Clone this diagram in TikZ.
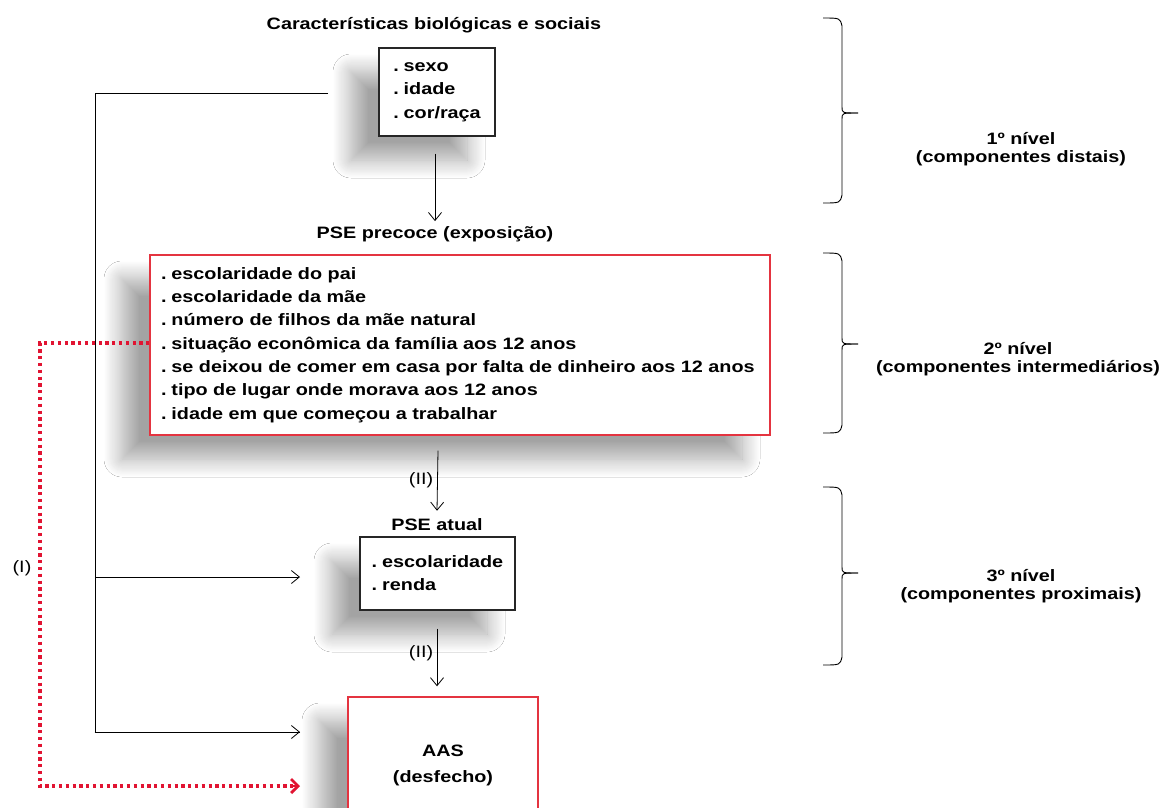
\documentclass[tikz,border=0pt]{standalone}
\usepackage{fontspec}
\setmainfont{Liberation Sans}[FakeStretch=1.2]
\usetikzlibrary{arrows.meta,shadows.blur}
\definecolor{boxred}{RGB}{228,52,64}
\definecolor{dotred}{RGB}{225,20,50}
\newcommand\dd{.\hspace{0.3em}}
\tikzset{
  txt/.style={font=\fontsize{16.5}{19}\selectfont\bfseries, inner sep=0pt},
  lbl/.style={font=\fontsize{16.5}{19}\selectfont, inner sep=0pt},
  shad/.style={blur shadow={shadow xshift=-28pt, shadow yshift=-24pt, shadow blur radius=18pt, shadow blur steps=18, shadow opacity=36}},
  blackbox/.style={draw=black!85, line width=1.4pt, fill=white, shad, align=left, inner sep=0pt},
  redbox/.style={draw=boxred, line width=1.4pt, fill=white, shad, align=left},
  arr/.style={line width=0.8pt, -{Straight Barb[length=8pt,width=13pt,line width=0.8pt]}},
  ln/.style={line width=0.8pt},
  reddot/.style={dotred, line width=3.4pt, dash pattern=on 3.2pt off 3.6pt},
  brace/.style={line width=0.9pt},
  lvl/.style={align=center, inner sep=0pt, font=\fontsize{16.5}{18.5}\selectfont\bfseries},
}
\begin{document}
\begin{tikzpicture}[x=1pt,y=-1pt]
\useasboundingbox (0,0) rectangle (1168,807);
\clip (0,0) rectangle (1168,807);
\fill[white] (0,0) rectangle (1168,807);

% nodes
\node[txt] (t1) at (434,25) {Características biológicas e sociais};
\node[blackbox, minimum width=116pt, minimum height=88pt,
      font=\fontsize{16.5}{23.5}\selectfont\bfseries] (b1) at (437,92) {\dd sexo\\\dd idade\\\dd cor/raça};
\node[txt] (t2) at (435,234) {PSE precoce (exposição)};
\node[redbox, minimum width=620pt, minimum height=180pt, text width=598pt, inner xsep=11pt,
      font=\fontsize{16.5}{23.3}\selectfont\bfseries] (b2) at (460,345)
  {\dd escolaridade do pai\\\dd escolaridade da mãe\\\dd número de filhos da mãe natural\\\dd situação econômica da família aos 12 anos\\\dd se deixou de comer em casa por falta de dinheiro aos 12 anos\\\dd tipo de lugar onde morava aos 12 anos\\\dd idade em que começou a trabalhar};
\node[txt] (t3) at (437,525) {PSE atual};
\node[blackbox, minimum width=155pt, minimum height=73pt,
      font=\fontsize{16.5}{23}\selectfont\bfseries] (b3) at (437.5,573.5) {\dd escolaridade\\\dd renda};
\node[redbox, minimum width=190pt, minimum height=136pt, align=center,
      font=\fontsize{16.5}{26}\selectfont\bfseries] (b4) at (443,765) {AAS\\(desfecho)};

% labels (II) and (I)
\node[lbl] (l1) at (421,480) {(II)};
\node[lbl] (l2) at (421,653) {(II)};
\node[lbl] (l3) at (22,568) {(I)};

% connectors
\draw[arr] ([xshift=-2pt,yshift=-17pt]b1.south) -- ([yshift=5pt]t2.north);
\draw[arr] ([xshift=-22pt,yshift=-15pt]b2.south) -- ([yshift=8pt]t3.north);
\draw[arr] ([xshift=-0.5pt,yshift=-18pt]b3.south) -- ([xshift=-6pt,yshift=10pt]b4.north);

\coordinate (s1) at (328,93);
\coordinate (c1) at (95,93);
\coordinate (e1) at (300,577);
\coordinate (e2) at (300,732);
\draw[ln] (s1) -- (c1) -- (c1 |- e2) -- (e2);
\draw[arr] (c1 |- e1) -- (e1);
\draw[arr] ([xshift=-0.4pt]c1 |- e2) -- (e2);

% red dotted path
\coordinate (r1) at (40,343);
\coordinate (r2) at (300,786);
\draw[reddot] (b2.west |- r1) -- (r1) |- ([xshift=-5pt]r2);
\draw[dotred, line width=2.8pt, -{Straight Barb[length=7pt,width=14pt,line width=2.8pt]}] ([xshift=-7pt]r2) -- (r2);

% braces
\foreach \ya/\ym/\yb in {18/113/203, 253/344/433, 487/573/665}{
  \draw[brace] (823,\ya) .. controls (840,\ya) .. (842,\ya+8) -- (842,\ym-6)
     .. controls (842,\ym) .. (858,\ym);
  \draw[brace] (858,\ym) .. controls (842,\ym) .. (842,\ym+6) -- (842,\yb-8)
     .. controls (840,\yb) .. (823,\yb);
}
\node[lvl] (n1) at (1021,149) {1º nível\\(componentes distais)};
\node[lvl] (n2) at (1018,359) {2º nível\\(componentes intermediários)};
\node[lvl] (n3) at (1021,586) {3º nível\\(componentes proximais)};
\end{tikzpicture}
\end{document}
